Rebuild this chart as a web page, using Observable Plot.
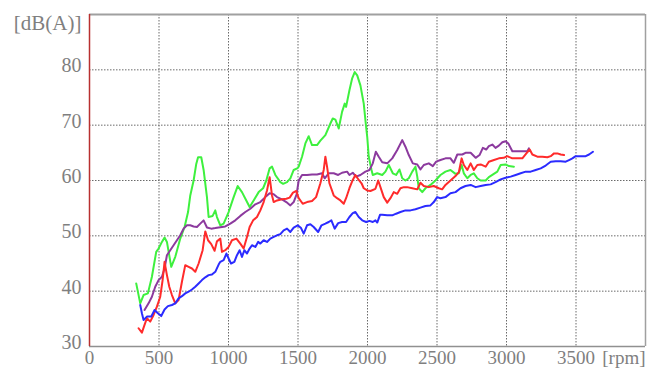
<!DOCTYPE html>
<html>
<head>
<meta charset="utf-8">
<script src="https://cdn.jsdelivr.net/npm/d3@7"></script>
<script src="https://cdn.jsdelivr.net/npm/@observablehq/plot@0.6"></script>
<style>
  html, body { margin: 0; padding: 0; background: #ffffff; }
  #chart { width: 655px; height: 370px; }
</style>
</head>
<body>
<div id="chart"></div>
<script>
// Tick values and labels
const xTicks = [0, 500, 1000, 1500, 2000, 2500, 3000, 3500];
const yTicks = [30, 40, 50, 60, 70, 80];
const xUnit = "[rpm]";
const yUnit = "[dB(A)]";

// Series: [rpm, dB(A)]
const green = [
  [336,41.4],[365,37.8],[389,39.3],[420,39.6],[449,42.6],[480,47.1],[497,47.7],[521,48.9],[540,49.7],[557,48.9],
  [588,44.4],[617,46.2],[653,49.5],[684,51.6],[709,54.3],[725,57.3],[749,60.0],[768,63.0],[781,64.2],[804,64.2],
  [821,61.9],[845,57.0],[857,53.4],[886,53.6],[905,54.6],[917,53.4],[941,51.9],[965,52.2],[1001,54.3],[1037,57.0],
  [1066,59.0],[1097,57.9],[1128,56.4],[1152,55.2],[1181,56.4],[1217,57.9],[1249,58.6],[1272,60.0],[1296,62.2],[1313,62.5],
  [1337,61.0],[1373,59.7],[1393,59.4],[1421,59.7],[1445,60.4],[1469,61.9],[1494,62.2],[1505,62.5],[1529,64.3],[1553,66.7],
  [1577,68.0],[1601,66.4],[1637,66.4],[1661,67.2],[1697,68.2],[1733,70.3],[1750,71.2],[1769,71.0],[1793,69.4],[1817,72.4],
  [1836,73.9],[1846,73.3],[1870,76.3],[1889,78.4],[1908,79.6],[1926,79.0],[1949,77.2],[1973,73.9],[1990,69.7],[1998,67.9],
  [2009,64.3],[2029,61.9],[2038,61.0],[2070,61.3],[2106,61.0],[2129,61.6],[2153,62.8],[2182,61.3],[2206,61.0],[2230,62.0],
  [2250,60.4],[2273,60.0],[2297,60.4],[2322,61.6],[2345,62.5],[2358,60.7],[2369,58.6],[2394,57.9],[2417,58.6],[2453,59.2],
  [2489,60.0],[2525,61.0],[2561,61.6],[2597,61.9],[2633,61.2],[2657,61.3],[2677,62.8],[2693,61.3],[2718,60.4],[2742,61.0],
  [2765,61.3],[2790,60.4],[2814,60.0],[2850,60.0],[2873,60.6],[2898,61.0],[2934,61.6],[2958,62.8],[2994,62.9],[3017,62.6],
  [3053,62.5]
];
const purple = [
  [396,36.6],[425,37.8],[449,39.0],[473,40.8],[497,42.0],[521,42.6],[540,44.1],[557,46.5],[581,47.4],[605,48.3],
  [629,49.2],[653,50.1],[677,51.3],[701,51.9],[725,51.9],[749,51.7],[773,51.6],[797,52.2],[821,52.8],[845,51.5],
  [876,51.3],[905,51.4],[929,51.5],[977,51.7],[1013,52.2],[1049,52.8],[1085,53.6],[1121,54.3],[1157,54.9],[1193,55.7],
  [1229,56.1],[1265,57.0],[1296,57.7],[1325,57.5],[1349,57.0],[1385,56.6],[1416,56.1],[1445,55.5],[1469,56.1],[1490,57.5],
  [1505,60.0],[1529,61.0],[1565,61.0],[1601,61.1],[1637,61.1],[1673,61.3],[1692,60.4],[1721,61.3],[1757,61.3],[1789,61.0],
  [1817,61.4],[1853,61.6],[1870,61.0],[1894,61.4],[1918,60.7],[1949,61.0],[1985,61.6],[2014,61.9],[2038,63.1],[2060,65.2],
  [2081,64.3],[2106,63.3],[2142,63.1],[2178,64.0],[2214,65.5],[2250,67.3],[2273,66.1],[2297,64.6],[2326,63.1],[2358,62.9],
  [2381,62.0],[2405,62.8],[2441,63.1],[2470,62.6],[2494,63.4],[2525,63.7],[2561,64.0],[2597,64.0],[2621,63.2],[2646,64.7],
  [2682,64.7],[2705,65.0],[2742,65.0],[2778,64.1],[2806,64.6],[2830,65.9],[2854,65.6],[2873,66.2],[2898,66.5],[2921,65.9],
  [2945,66.3],[2970,66.9],[2994,67.1],[3013,66.7],[3042,65.3],[3078,65.3],[3114,65.3],[3150,65.3],[3161,65.8]
];
const red = [
  [353,33.3],[377,32.5],[396,33.9],[413,35.1],[437,34.5],[461,35.7],[485,37.2],[509,39.0],[526,42.0],[540,45.3],
  [557,42.9],[574,40.8],[593,39.3],[617,37.8],[641,38.4],[665,41.7],[689,44.7],[713,44.4],[737,44.1],[761,43.5],
  [785,45.0],[814,47.4],[833,50.8],[853,49.2],[876,48.5],[900,47.3],[917,49.0],[941,49.5],[953,47.1],[977,47.4],
  [1001,48.0],[1025,49.2],[1057,49.5],[1085,48.6],[1109,47.7],[1133,49.8],[1152,51.6],[1177,52.8],[1205,53.4],[1229,54.6],
  [1253,56.1],[1277,58.2],[1296,60.6],[1313,57.3],[1325,56.1],[1349,56.4],[1385,56.6],[1416,56.7],[1440,56.9],[1464,57.8],
  [1488,58.1],[1505,56.8],[1534,55.8],[1565,56.1],[1601,56.3],[1630,57.0],[1661,59.5],[1685,61.9],[1697,64.3],[1709,62.5],
  [1726,59.5],[1757,57.3],[1781,56.8],[1805,56.4],[1829,55.8],[1846,56.8],[1870,58.6],[1894,60.1],[1913,61.0],[1937,60.1],
  [1957,59.5],[1973,58.6],[1998,58.2],[2021,58.1],[2057,58.5],[2077,60.0],[2093,58.8],[2117,57.0],[2142,56.0],[2165,56.8],
  [2189,57.9],[2214,57.6],[2237,58.6],[2261,58.8],[2285,58.8],[2322,58.6],[2358,58.4],[2381,59.6],[2405,59.0],[2441,58.8],
  [2477,59.0],[2513,58.6],[2537,58.4],[2561,59.2],[2597,60.0],[2633,60.8],[2657,61.5],[2677,64.0],[2693,62.8],[2718,61.9],
  [2742,63.1],[2765,61.9],[2790,62.8],[2814,62.9],[2850,62.5],[2873,63.4],[2910,63.7],[2945,64.0],[2981,64.1],[3005,64.4],
  [3042,64.0],[3078,64.0],[3114,64.0],[3143,64.9],[3167,65.6],[3186,64.7],[3222,64.3],[3258,64.3],[3294,64.2],[3318,64.4],
  [3342,64.9],[3366,64.9],[3390,64.7],[3414,64.6]
];
const blue = [
  [365,37.5],[377,36.0],[389,34.8],[413,35.4],[444,35.4],[468,36.6],[492,36.0],[516,35.5],[540,36.7],[564,37.3],
  [593,37.5],[617,37.8],[641,38.7],[665,39.1],[689,39.6],[713,39.9],[737,40.3],[761,40.8],[785,41.4],[809,42.0],
  [833,42.5],[857,42.9],[881,43.0],[905,43.5],[929,44.8],[941,45.3],[965,45.6],[985,46.8],[1001,45.9],[1018,45.0],
  [1042,45.3],[1061,46.5],[1080,47.4],[1097,46.2],[1114,47.4],[1133,46.8],[1152,47.7],[1169,48.3],[1193,48.0],[1213,48.9],
  [1229,48.6],[1253,49.2],[1277,48.9],[1301,49.5],[1325,49.8],[1349,50.1],[1373,50.3],[1397,51.0],[1421,51.3],[1445,50.7],
  [1469,51.5],[1498,51.9],[1522,51.4],[1541,50.4],[1565,51.9],[1589,52.1],[1613,51.6],[1645,50.7],[1669,51.9],[1697,52.2],
  [1721,52.5],[1740,52.8],[1764,51.3],[1789,52.3],[1817,52.5],[1846,52.5],[1870,53.4],[1894,54.1],[1913,54.3],[1937,53.4],
  [1962,52.8],[1990,52.5],[2014,52.7],[2038,52.5],[2057,52.8],[2070,52.4],[2090,53.8],[2106,53.8],[2142,53.7],[2178,53.7],
  [2206,54.0],[2237,54.3],[2273,54.6],[2309,54.6],[2345,54.8],[2381,55.1],[2417,55.4],[2453,55.5],[2477,56.1],[2501,57.0],
  [2525,56.8],[2561,57.0],[2597,57.7],[2633,57.9],[2669,58.6],[2705,59.0],[2742,59.2],[2778,58.8],[2814,59.0],[2850,59.2],
  [2886,59.3],[2921,59.7],[2958,60.2],[2994,60.5],[3030,60.7],[3066,61.0],[3102,61.3],[3138,61.6],[3174,61.6],[3210,61.9],
  [3246,62.2],[3282,62.7],[3318,63.4],[3354,63.5],[3390,63.5],[3426,63.4],[3450,63.7],[3474,64.0],[3498,64.4],[3534,64.4],
  [3570,64.4],[3594,64.7],[3622,65.2]
];

const xDomain = [0, 4000];
const yDomain = [30, 90];

const serif = "Liberation Serif";
const gridStyle = {stroke: "#6a6a6a", strokeOpacity: 1, strokeWidth: 1, strokeDasharray: "1.5,1.5"};
const lineStyle = {x: d => d[0], y: d => d[1], strokeWidth: 2, strokeLinejoin: "round"};
const textStyle = {fontFamily: serif, fontSize: 20, fill: "#7f7f7f"};

const chart = Plot.plot({
  width: 655,
  height: 370,
  marginLeft: 89,
  marginRight: 10,
  marginTop: 14,
  marginBottom: 24,
  x: {domain: xDomain},
  y: {domain: yDomain},
  style: {background: "#ffffff"},
  marks: [
    Plot.gridX(xTicks.filter(t => t > 0), gridStyle),
    Plot.gridY(yTicks.filter(t => t > 30), gridStyle),
    Plot.line(green, {...lineStyle, stroke: "#3ef03e"}),
    Plot.line(purple, {...lineStyle, stroke: "#8c3a9e"}),
    Plot.line(red, {...lineStyle, stroke: "#ff2b2b"}),
    Plot.line(blue, {...lineStyle, stroke: "#2b2bff"}),
    Plot.ruleY([yDomain[1]], {stroke: "#a0a0a0", strokeWidth: 2}),
    Plot.ruleX([xDomain[1]], {stroke: "#a0a0a0", strokeWidth: 1.5}),
    Plot.ruleY([yDomain[0]], {stroke: "#909090", strokeWidth: 1.5}),
    Plot.ruleX([xDomain[0]], {stroke: "#b83030", strokeWidth: 1.5}),
    Plot.axisX(xTicks, {...textStyle, fontSize: 19, tickSize: 0, tickPadding: 4, label: null, tickFormat: d => String(d)}),
    Plot.axisY(yTicks, {...textStyle, tickSize: 0, tickPadding: 8, dy: -4, label: null, tickFormat: d => String(d)}),
    Plot.text([xUnit], {...textStyle, fontSize: 19, frameAnchor: "bottom-right", textAnchor: "end", lineAnchor: "top", dy: 4, dx: 0}),
    Plot.text([yUnit], {...textStyle, fontSize: 21, frameAnchor: "top-left", textAnchor: "end", lineAnchor: "middle", dx: -8, dy: 9})
  ]
});
document.getElementById("chart").appendChild(chart);
</script>
</body>
</html>
